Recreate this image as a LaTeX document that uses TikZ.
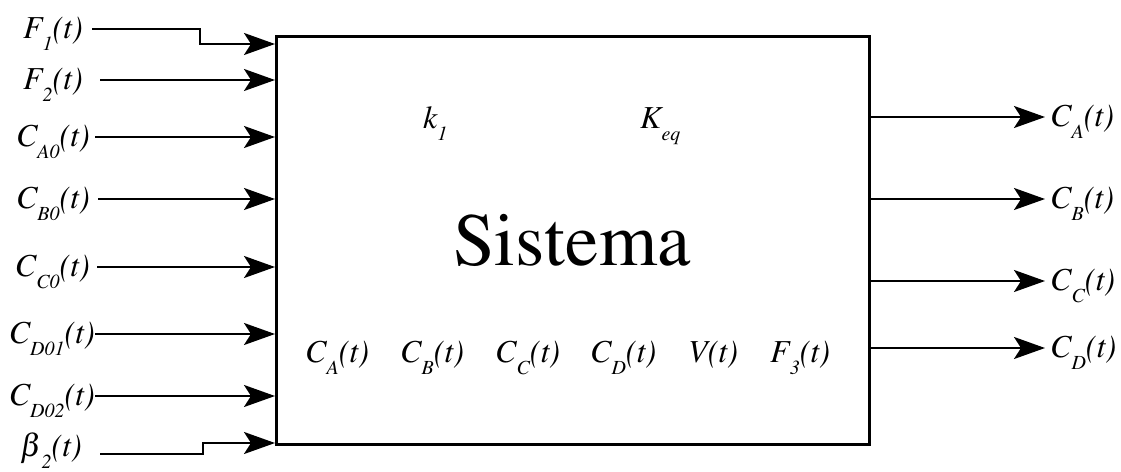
\documentclass[tikz,border=0pt]{standalone}
\usepackage[T1]{fontenc}
\usepackage{mathptmx}
\usetikzlibrary{arrows.meta,positioning}
\newcommand{\sbx}[1]{\raisebox{-0.38em}{\fontsize{20}{20}\selectfont #1}}

\begin{document}
\begin{tikzpicture}[x=1pt,y=-1pt,
    flecha/.style={line width=2.4pt,-{Stealth[length=31pt,width=22pt,inset=7pt]}},
    etq/.style={font=\fontsize{32}{32}\selectfont\itshape,inner sep=0pt}]
  \useasboundingbox (0,0) rectangle (1121,471);
  % bloque
  \node[draw,line width=2.6pt,minimum width=593pt,minimum height=408pt,inner sep=0pt,anchor=north west] (sis) at (275,35) {};
  \node[font=\fontsize{75}{75}\selectfont,anchor=base] (nom) at (572,265) {Sistema};
  \node[etq,anchor=base west] (k1) at (423,128) {k\sbx{1}};
  \node[etq,anchor=base west] (keq) at (640,128) {K\sbx{eq}};
  \foreach \n/\x/\txt in {ca/305/C\sbx{A}(t),cb/400/C\sbx{B}(t),cc/495/C\sbx{C}(t),cd/590/C\sbx{D}(t),v/688/V(t),f3/770/F\sbx{3}(t)}{
    \node[etq,anchor=base west] (est\n) at (\x,362) {\txt};
  }
  % entradas
  \foreach \n/\x/\y/\g/\txt in {2/100/80/17/F\sbx{2}(t),3/95/137/5/C\sbx{A0}(t),4/98/199/8/C\sbx{B0}(t),5/97/267/7/C\sbx{C0}(t),6/95/334/0/C\sbx{D01}(t),7/95/396/0/C\sbx{D02}(t)}{
    \coordinate (a\n) at (\x,\y);
    \node[etq,anchor=base east] (in\n) at ([xshift=-\g pt,yshift=-9pt]a\n) {\txt};
    \draw[flecha] (a\n) -- (a\n -| sis.west);
  }
  \coordinate (a1) at (92,29);
  \coordinate (s1) at (200,44);
  \node[etq,anchor=base east] (in1) at ([xshift=-9pt,yshift=-9pt]a1) {F\sbx{1}(t)};
  \draw[flecha] (a1) -| (s1) -- (s1 -| sis.west);
  \coordinate (a8) at (100,454);
  \coordinate (s8) at (203,443);
  \node[etq,anchor=base east] (in8) at ([xshift=-18pt,yshift=-2pt]a8) {$\beta$\sbx{2}(t)};
  \draw[flecha] (a8) -| (s8) -- (s8 -| sis.west);
  % salidas
  \foreach \n/\y/\txt in {1/117/C\sbx{A}(t),2/199/C\sbx{B}(t),3/281/C\sbx{C}(t),4/348/C\sbx{D}(t)}{
    \coordinate (b\n) at (1045,\y);
    \draw[flecha] (b\n -| sis.east) -- (b\n);
    \node[etq,anchor=base west] (out\n) at ([xshift=5pt,yshift=-9pt]b\n) {\txt};
  }
\end{tikzpicture}
\end{document}
